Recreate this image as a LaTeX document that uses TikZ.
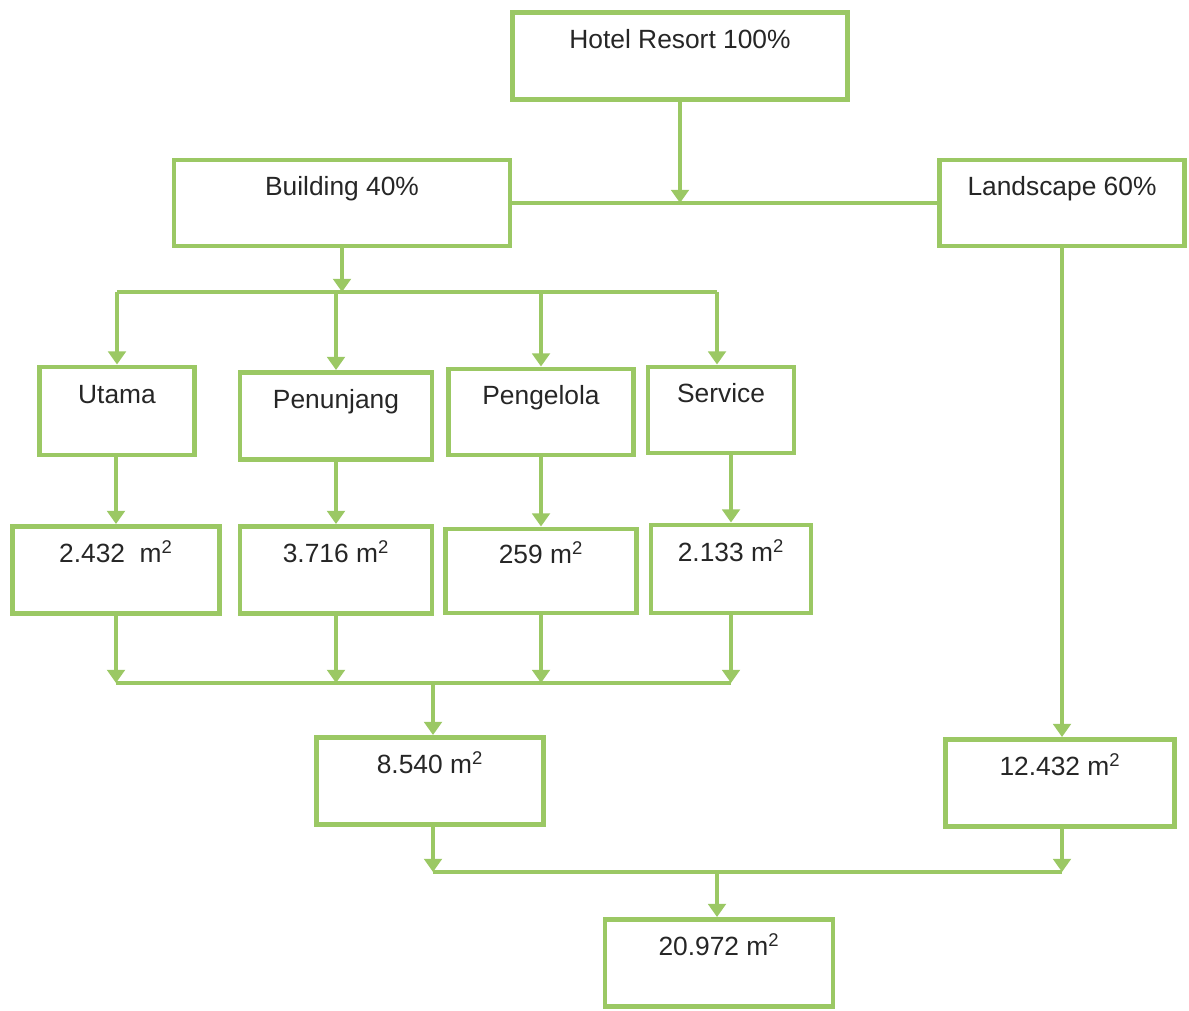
\documentclass[tikz,border=0pt]{standalone}
\usepackage{fontspec}
\setmainfont{Liberation Sans}
\usepackage{xcolor}
\usetikzlibrary{positioning,calc,arrows.meta}
\definecolor{leaf}{RGB}{155,200,100}
\tikzset{
  box/.style={draw=leaf, line width=2.8pt, fill=white, text=black!85,
    font=\fontsize{15}{18}\selectfont, text height=11pt, text depth=19pt,
    minimum height=1.74cm},
  link/.style={draw=leaf, line width=2.8pt},
  arr/.style={link, -{Triangle[width=10pt,length=7.5pt]}}
}
\begin{document}
\begin{tikzpicture}[x=0.02cm, y=-0.02cm]
			\useasboundingbox (0,0) rectangle (1189,1010);
			\node [box, minimum width=6.7cm] (hotel) at (680,56) {Hotel Resort 100\%};
			\node [box, minimum width=6.72cm, minimum height=1.72cm] (bld) at (342,203) {Building 40\%};
			\node [box, minimum width=4.9cm, minimum height=1.72cm] (land) at (1062,203) {Landscape 60\%};
			\node [box, minimum width=3.1cm, minimum height=1.76cm] (utama) at (117,411) {Utama};
			\node [box, minimum width=3.84cm] (penunjang) at (336,416) {Penunjang};
			\node [box, minimum width=3.7cm, minimum height=1.72cm] (pengelola) at (541,412) {Pengelola};
			\node [box, minimum width=2.92cm, minimum height=1.72cm] (service) at (721,410) {Service};
			\node [box, minimum width=4.14cm] (a1) at (116,570) {2.432\ \ m\textsuperscript{2}};
			\node [box, minimum width=3.84cm] (a2) at (336,570) {3.716 m\textsuperscript{2}};
			\node [box, minimum width=3.82cm, minimum height=1.68cm] (a3) at (541,571) {259 m\textsuperscript{2}};
			\node [box, minimum width=3.2cm, minimum height=1.76cm] (a4) at (731,569) {2.133 m\textsuperscript{2}};
			\node [box, minimum width=4.54cm] (sum) at (430,781) {8.540 m\textsuperscript{2}};
			\node [box, minimum width=4.58cm] (land2) at (1060,783) {12.432 m\textsuperscript{2}};
			\node [box, minimum width=4.56cm] (total) at (719,963) {20.972 m\textsuperscript{2}};
			% split of the resort
			\draw [link] (bld.east) -- (land.west);
			\draw [arr] (hotel.south) -- (hotel.south |- bld.east);
			% building zones
			\coordinate (bsplit) at (338,292);
			\draw [arr] (bld.south) -- (bld.south |- bsplit);
			\draw [link] (utama.north |- bsplit) -- ($(service.north |- bsplit)+(-4,0)$);
			\foreach \z in {utama,penunjang,pengelola}
				\draw [arr] (\z.north |- bsplit) -- (\z.north);
			\draw [arr] ($(service.north |- bsplit)+(-4,0)$) -- ($(service.north)+(-4,0)$);
			\foreach \z/\a in {utama/a1,penunjang/a2,pengelola/a3,service/a4}
				\draw [arr] (\a.north |- \z.south) -- (\a.north);
			% sum of the building area
			\coordinate (bmerge) at (433,683);
			\draw [link] (a1.south |- bmerge) -- (a4.south |- bmerge);
			\foreach \a in {a1,a2,a3,a4}
				\draw [arr] (\a.south) -- (\a.south |- bmerge);
			\draw [arr] (bmerge) -- (bmerge |- sum.north);
			\draw [arr] (land.south) -- (land.south |- land2.north);
			% total area
			\coordinate (tmerge) at (717,872);
			\draw [link] ($(sum.south |- tmerge)+(3,0)$) -- ($(land2.south |- tmerge)+(2,0)$);
			\draw [arr] ($(sum.south)+(3,0)$) -- ($(sum.south |- tmerge)+(3,0)$);
			\draw [arr] ($(land2.south)+(2,0)$) -- ($(land2.south |- tmerge)+(2,0)$);
			\draw [arr] (tmerge) -- (tmerge |- total.north);
		\end{tikzpicture}
\end{document}
